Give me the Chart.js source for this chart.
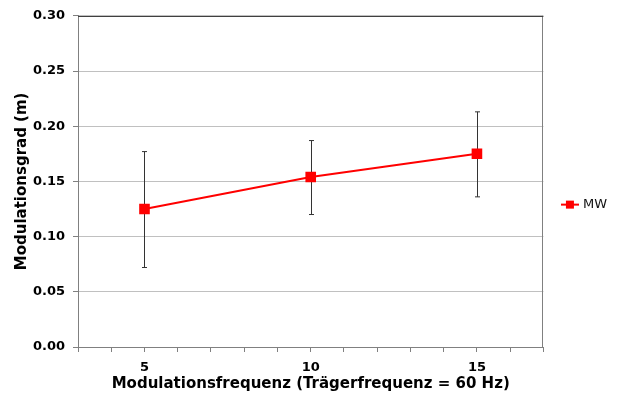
<!DOCTYPE html>
<html>
<head>
<meta charset="utf-8">
<script src="https://cdn.jsdelivr.net/npm/chart.js@4.4.0/dist/chart.umd.min.js"></script>
<style>
  body { margin: 0; background: #fff; }
  #wrap { width: 617px; height: 394px; }
</style>
</head>
<body>
<div id="wrap"><canvas id="modChart" width="617" height="394"></canvas></div>
<script>
// Modulationsgrad je Modulationsfrequenz (Mittelwert mit Fehlerbalken)
var frequencies = [5, 10, 15];
var meanValues = [0.125, 0.154, 0.175];
var errLow = [0.072, 0.120, 0.136];
var errHigh = [0.177, 0.187, 0.213];
var xLabels = [5, 10, 15];
var seriesName = 'MW';

var fontFamily = '"DejaVu Sans", Verdana, sans-serif';

// legend symbol: line with a square marker
function makeLegendSymbol(){
	var c = document.createElement('canvas');
	c.width = 18;
	c.height = 10;
	var g = c.getContext('2d');
	g.strokeStyle = '#ff0000';
	g.lineWidth = 2;
	g.beginPath();
	g.moveTo(0, 5);
	g.lineTo(18, 5);
	g.stroke();
	g.fillStyle = '#ff0000';
	g.fillRect(5, 1, 8, 8);
	return c;
}

var errorBars = {
	id: 'errorBars',
	beforeDatasetsDraw: function(chart){
		var ctx = chart.ctx;
		var xs = chart.scales.x;
		var ys = chart.scales.y;
		ctx.save();
		ctx.strokeStyle = '#333333';
		ctx.lineWidth = 1;
		for (var i = 0; i < frequencies.length; i++){
			var px = Math.round(xs.getPixelForValue(frequencies[i])) + 0.5;
			var top = ys.getPixelForValue(errHigh[i]);
			var bot = ys.getPixelForValue(errLow[i]);
			ctx.beginPath();
			ctx.moveTo(px, top);
			ctx.lineTo(px, bot);
			ctx.moveTo(px - 2.5, top);
			ctx.lineTo(px + 2.5, top);
			ctx.moveTo(px - 2.5, bot);
			ctx.lineTo(px + 2.5, bot);
			ctx.stroke();
		}
		ctx.restore();
	}
};

var plotFrame = {
	id: 'plotFrame',
	beforeDatasetsDraw: function(chart){
		var a = chart.chartArea;
		var ctx = chart.ctx;
		ctx.save();
		ctx.strokeStyle = '#808080';
		ctx.lineWidth = 1;
		ctx.beginPath();
		ctx.moveTo(Math.round(a.right) - 0.5, a.top);
		ctx.lineTo(Math.round(a.right) - 0.5, a.bottom);
		ctx.stroke();
		ctx.strokeStyle = '#404040';
		ctx.beginPath();
		ctx.moveTo(a.left, Math.round(a.top) + 0.5);
		ctx.lineTo(a.right, Math.round(a.top) + 0.5);
		ctx.stroke();
		ctx.restore();
	}
};

var ctx = document.getElementById('modChart');
var modChart = new Chart(ctx, {
	type: 'line',
	data: {
		datasets: [{
			label: seriesName,
			data: frequencies.map(function(f, i){ return {x: f, y: meanValues[i]}; }),
			borderColor: '#ff0000',
			backgroundColor: '#ff0000',
			borderWidth: 2,
			pointStyle: 'rect',
			pointRadius: 7.5,
			pointHoverRadius: 7.5,
			pointBorderWidth: 0,
			tension: 0
		}]
	},
	plugins: [errorBars, plotFrame],
	options: {
		responsive: false,
		animation: false,
		layout: {
			padding: {left: 9, right: 0, top: 12, bottom: 1}
		},
		plugins: {
			tooltip: {enabled: false},
			legend: {
				position: 'right',
				maxWidth: 74,
				title: {
					display: true,
					text: '',
					font: {size: 1},
					padding: {top: 3, bottom: 0}
				},
				labels: {
					usePointStyle: true,
					color: '#111',
					font: {family: fontFamily, size: 13},
					padding: 20,
					generateLabels: function(chart){
						return [{
							text: seriesName,
							pointStyle: makeLegendSymbol(),
							fillStyle: '#ff0000',
							strokeStyle: '#ff0000',
							fontColor: '#111',
							lineWidth: 0,
							datasetIndex: 0
						}];
					}
				}
			}
		},
		scales: {
			x: {
				type: 'linear',
				min: 3,
				max: 17,
				afterFit: function(scale){ scale.height = 46; },
				ticks: {
					stepSize: 1,
					autoSkip: false,
					maxRotation: 0,
					color: '#000',
					font: {family: fontFamily, size: 13, weight: 'bold'},
					padding: 8,
					callback: function(v){
						return xLabels.indexOf(v) >= 0 ? String(v) : '';
					}
				},
				grid: {
					drawOnChartArea: false,
					drawTicks: true,
					tickLength: 5,
					color: '#808080'
				},
				border: {color: '#808080'},
				title: {
					display: true,
					text: 'Modulationsfrequenz (Trägerfrequenz = 60 Hz)',
					color: '#000',
					font: {family: fontFamily, size: 15, weight: 'bold'},
					padding: {top: 1, bottom: 0}
				}
			},
			y: {
				min: 0,
				max: 0.30,
				afterFit: function(scale){ scale.width = 69; },
				ticks: {
					stepSize: 0.05,
					color: '#000',
					font: {family: fontFamily, size: 13, weight: 'bold'},
					padding: 8,
					callback: function(v){ return v.toFixed(2); }
				},
				grid: {
					color: '#c0c0c0',
					tickColor: '#808080',
					tickLength: 5
				},
				border: {color: '#808080'},
				title: {
					display: true,
					text: 'Modulationsgrad (m)',
					color: '#000',
					font: {family: fontFamily, size: 15, weight: 'bold'},
					padding: {top: 4, bottom: 2}
				}
			}
		}
	}
});
</script>
</body>
</html>
